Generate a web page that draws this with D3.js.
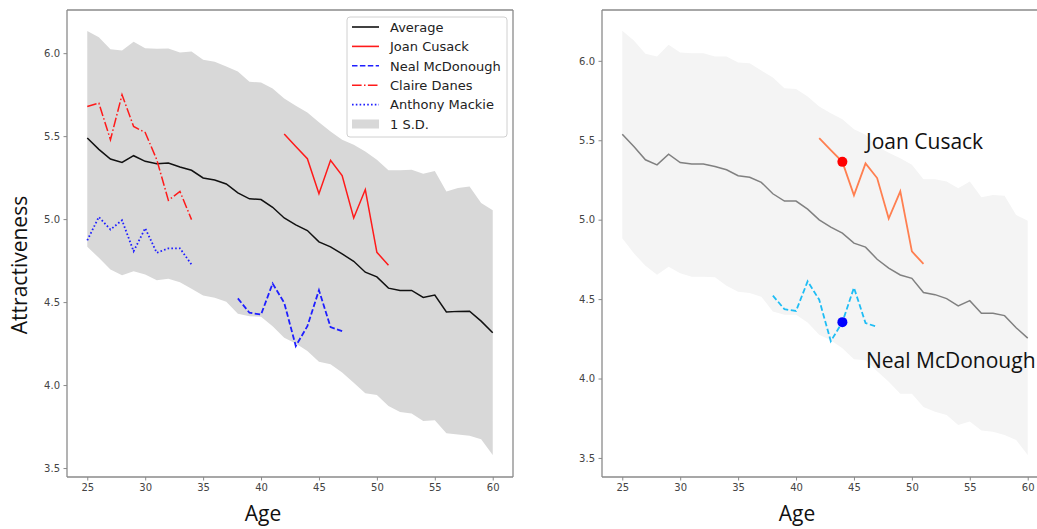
<!DOCTYPE html>
<html><head><meta charset="utf-8">
<script src="https://cdn.jsdelivr.net/npm/d3@7"></script>
<style>body{margin:0;background:#fff}svg{display:block}</style>
</head><body>
<svg id="c" width="1037" height="529"></svg>
<script>
const ages = d3.range(25, 61);
const avgL = [5.489,5.42,5.362,5.342,5.382,5.348,5.334,5.338,5.314,5.294,5.248,5.236,5.212,5.158,5.122,5.118,5.071,5.007,4.965,4.931,4.863,4.833,4.79,4.746,4.68,4.652,4.584,4.57,4.57,4.528,4.542,4.44,4.444,4.445,4.385,4.315];
const upL = [6.134,6.096,6.024,6.016,6.068,6.03,6.026,6.028,6.004,6.01,5.96,5.948,5.919,5.889,5.827,5.823,5.787,5.727,5.683,5.643,5.583,5.528,5.478,5.448,5.408,5.358,5.294,5.294,5.298,5.274,5.29,5.167,5.188,5.197,5.097,5.053];
const loL = [4.833,4.767,4.696,4.662,4.686,4.666,4.632,4.64,4.62,4.58,4.54,4.526,4.502,4.43,4.415,4.411,4.355,4.285,4.251,4.205,4.141,4.125,4.075,4.014,3.95,3.94,3.874,3.838,3.828,3.784,3.788,3.709,3.702,3.694,3.673,3.579];
const avgR = [5.538,5.46,5.377,5.345,5.412,5.36,5.35,5.35,5.335,5.314,5.277,5.267,5.235,5.163,5.117,5.117,5.066,4.999,4.953,4.915,4.852,4.827,4.751,4.695,4.652,4.631,4.541,4.528,4.503,4.457,4.49,4.411,4.411,4.396,4.32,4.254];
const upR = [6.189,6.128,6.044,6.027,6.101,6.052,6.048,6.048,6.027,6.027,5.989,5.985,5.939,5.895,5.828,5.822,5.775,5.712,5.67,5.633,5.57,5.534,5.46,5.422,5.387,5.345,5.255,5.255,5.24,5.198,5.24,5.141,5.156,5.15,5.03,4.994];
const loR = [4.883,4.788,4.71,4.653,4.704,4.662,4.641,4.641,4.637,4.584,4.546,4.538,4.515,4.422,4.401,4.401,4.353,4.275,4.241,4.191,4.121,4.115,4.046,3.979,3.904,3.904,3.82,3.79,3.77,3.708,3.729,3.672,3.665,3.645,3.613,3.519];
const joanAges = d3.range(42, 52);
const joan = [5.513,5.438,5.364,5.153,5.354,5.262,5.007,5.178,4.80,4.722];
const nealAges = d3.range(38, 48);
const neal = [4.522,4.436,4.425,4.612,4.496,4.235,4.355,4.572,4.349,4.325];
const claireAges = d3.range(25, 35);
const claire = [5.679,5.699,5.478,5.749,5.558,5.522,5.358,5.113,5.167,4.997];
const anthonyAges = d3.range(25, 35);
const anthony = [4.872,5.013,4.937,4.993,4.806,4.945,4.797,4.824,4.824,4.726];
const xTicks = [25,30,35,40,45,50,55,60];
const yTicks = [3.5,4.0,4.5,5.0,5.5,6.0];
const highlightAge = 44;

const svg = d3.select("#c");
const tickFont = "DejaVu Sans, sans-serif";
const labelFont = "Open Sans, Noto Sans, sans-serif";

function panel(x, y) {
  const g = svg.append("g");
  const [x0, x1] = x.range(), [y0, y1] = y.range();
  g.append("rect").attr("x", x0).attr("y", y1).attr("width", x1 - x0).attr("height", y0 - y1)
    .attr("fill", "#fff");
  return g;
}
function frame(g, x, y, sides) {
  const [x0, x1] = x.range(), [y0, y1] = y.range();
  const seg = (a,b,c,d) => g.append("line").attr("x1",a).attr("y1",b).attr("x2",c).attr("y2",d)
      .attr("stroke", "#8a8a8a").attr("stroke-width", 1.3);
  seg(x0, y1, x0, y0); seg(x0, y0, x1, y0); seg(x0, y1, x1, y1);
  if (sides.right) seg(x1, y1, x1, y0);
  const xa = g.append("g").attr("transform", `translate(0,${y0})`)
    .call(d3.axisBottom(x).tickValues(xTicks).tickSize(3.5).tickPadding(3).tickFormat(d3.format("d")));
  const ya = g.append("g").attr("transform", `translate(${x0},0)`)
    .call(d3.axisLeft(y).tickValues(yTicks).tickSize(3.5).tickPadding(3.5).tickFormat(d3.format(".1f")));
  [xa, ya].forEach(a => {
    a.select(".domain").remove();
    a.selectAll(".tick line").attr("stroke", "#8a8a8a").attr("stroke-width", 1);
    a.selectAll(".tick text").attr("fill", "#444").style("font-family", tickFont).style("font-size", "10px");
  });
}
const zip = (xs, ys) => xs.map((a,i)=>[a, ys[i]]);

// LEFT PANEL
const xL = d3.scaleLinear().domain([23.25, 61.75]).range([67, 513]);
const yL = d3.scaleLinear().domain([3.446, 6.26]).range([477, 10]);
const gL = panel(xL, yL);
gL.append("path").datum(ages.map((a,i)=>[a, upL[i], loL[i]]))
  .attr("fill", "#d8d8d8")
  .attr("d", d3.area().x(d=>xL(d[0])).y0(d=>yL(d[2])).y1(d=>yL(d[1])));
const lineL = d3.line().x(d=>xL(d[0])).y(d=>yL(d[1]));
gL.append("path").datum(zip(ages, avgL)).attr("d", lineL).attr("fill","none").attr("stroke","#111").attr("stroke-width",1.5);
gL.append("path").datum(zip(joanAges, joan)).attr("d", lineL).attr("fill","none").attr("stroke","#ff1a1a").attr("stroke-width",1.5);
gL.append("path").datum(zip(nealAges, neal)).attr("d", lineL).attr("fill","none").attr("stroke","#1f1fff").attr("stroke-width",1.8).attr("stroke-dasharray","5.5,2.4");
gL.append("path").datum(zip(claireAges, claire)).attr("d", lineL).attr("fill","none").attr("stroke","#ff1a1a").attr("stroke-width",1.5).attr("stroke-dasharray","9.6,2.4,1.5,2.4");
gL.append("path").datum(zip(anthonyAges, anthony)).attr("d", lineL).attr("fill","none").attr("stroke","#1f1fff").attr("stroke-width",1.8).attr("stroke-dasharray","1.6,2.2");
frame(gL, xL, yL, {right: true});

// legend
const legendItems = [
  {label: "Average", color: "#111", dash: null},
  {label: "Joan Cusack", color: "#ff1a1a", dash: null},
  {label: "Neal McDonough", color: "#1f1fff", dash: "5.5,2.4"},
  {label: "Claire Danes", color: "#ff1a1a", dash: "9.6,2.4,1.5,2.4"},
  {label: "Anthony Mackie", color: "#1f1fff", dash: "1.6,2.2"},
  {label: "1 S.D.", patch: "#d8d8d8"}
];
const lg = svg.append("g").attr("transform", "translate(347,17)");
lg.append("rect").attr("width", 160).attr("height", 120).attr("rx", 3)
  .attr("fill", "#fff").attr("fill-opacity", 0.85).attr("stroke", "#d0d0d0").attr("stroke-width", 1);
legendItems.forEach((it, i) => {
  const cy = 10 + i * 19.4;
  if (it.patch) {
    lg.append("rect").attr("x", 5).attr("y", cy - 4.5).attr("width", 27).attr("height", 9).attr("fill", it.patch);
  } else {
    lg.append("line").attr("x1", 5).attr("x2", 32).attr("y1", cy).attr("y2", cy)
      .attr("stroke", it.color).attr("stroke-width", 1.6).attr("stroke-dasharray", it.dash);
  }
  lg.append("text").attr("x", 43).attr("y", cy + 4.8).text(it.label)
    .style("font-family", tickFont).style("font-size", "13px").attr("fill", "#222");
});

svg.append("text").attr("transform", "translate(27,265) rotate(-90)").attr("text-anchor", "middle")
  .style("font-family", labelFont).style("font-size", "21px").attr("fill", "#111").text("Attractiveness");
svg.append("text").attr("x", 263).attr("y", 521).attr("text-anchor", "middle")
  .style("font-family", labelFont).style("font-size", "21px").attr("fill", "#111").text("Age");

// RIGHT PANEL
const xR = d3.scaleLinear().domain([23.25, 61.75]).range([602, 1048]);
const yR = d3.scaleLinear().domain([3.38, 6.32]).range([477, 10]);
const gR = panel(xR, yR);
gR.append("path").datum(ages.map((a,i)=>[a, upR[i], loR[i]]))
  .attr("fill", "#f4f4f4")
  .attr("d", d3.area().x(d=>xR(d[0])).y0(d=>yR(d[2])).y1(d=>yR(d[1])));
const lineR = d3.line().x(d=>xR(d[0])).y(d=>yR(d[1]));
gR.append("path").datum(zip(ages, avgR)).attr("d", lineR).attr("fill","none").attr("stroke","#808080").attr("stroke-width",1.5);
gR.append("path").datum(zip(joanAges, joan)).attr("d", lineR).attr("fill","none").attr("stroke","#ff7f50").attr("stroke-width",1.8);
gR.append("path").datum(zip(nealAges, neal)).attr("d", lineR).attr("fill","none").attr("stroke","#1ebdf5").attr("stroke-width",1.8).attr("stroke-dasharray","5.5,2.6");
const hi = joanAges.indexOf(highlightAge), hn = nealAges.indexOf(highlightAge);
gR.append("circle").attr("cx", xR(highlightAge)).attr("cy", yR(joan[hi])).attr("r", 5).attr("fill", "#ff0000");
gR.append("circle").attr("cx", xR(highlightAge)).attr("cy", yR(neal[hn])).attr("r", 5).attr("fill", "#0000ff");
frame(gR, xR, yR, {right: false});
svg.append("text").attr("x", 866).attr("y", 149).style("font-family", labelFont).style("font-size", "21px").attr("fill", "#111").text("Joan Cusack");
svg.append("text").attr("x", 866).attr("y", 368).style("font-family", labelFont).style("font-size", "21px").attr("fill", "#111").text("Neal McDonough");
svg.append("text").attr("x", 797).attr("y", 521).attr("text-anchor", "middle")
  .style("font-family", labelFont).style("font-size", "21px").attr("fill", "#111").text("Age");
</script>
</body></html>
